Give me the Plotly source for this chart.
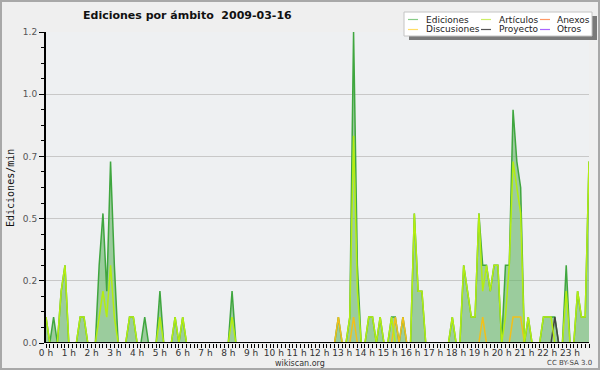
import plotly.graph_objects as go

# ---- data: edits per minute in 10-minute bins (144 bins, 00:00 .. 23:50) ----
minutes = [10 * i for i in range(144)]

ediciones = [
    0.1, 0, 0.1, 0, 0.2, 0.3, 0, 0, 0, 0.1, 0.1, 0,
    0, 0, 0.3, 0.5, 0.2, 0.7, 0.3, 0, 0, 0, 0.1, 0.1,
    0, 0, 0.1, 0, 0, 0, 0.2, 0, 0, 0, 0.1, 0,
    0.1, 0, 0, 0, 0, 0, 0, 0, 0, 0, 0, 0,
    0, 0.2, 0, 0, 0, 0, 0, 0, 0, 0, 0, 0,
    0, 0, 0, 0, 0, 0, 0, 0, 0, 0, 0, 0,
    0, 0, 0, 0, 0, 0.1, 0, 0, 0.1, 1.2, 0.3, 0,
    0, 0.1, 0.1, 0, 0.1, 0, 0, 0.1, 0.1, 0, 0.1, 0,
    0, 0.5, 0.2, 0.2, 0, 0, 0, 0, 0, 0, 0, 0.1,
    0, 0, 0.3, 0.2, 0.1, 0.1, 0.5, 0.3, 0.3, 0.2, 0.3, 0.3,
    0, 0.3, 0.3, 0.9, 0.7, 0.6, 0, 0.1, 0, 0, 0, 0.1,
    0.1, 0.1, 0.1, 0, 0, 0.3, 0, 0, 0.2, 0.1, 0.1, 0.7,
]

articulos = [
    0.1, 0, 0, 0, 0.2, 0.3, 0, 0, 0, 0.1, 0.1, 0,
    0, 0, 0.1, 0.2, 0.1, 0.3, 0.1, 0, 0, 0, 0.1, 0.1,
    0, 0, 0, 0, 0, 0, 0.1, 0, 0, 0, 0.1, 0,
    0.1, 0, 0, 0, 0, 0, 0, 0, 0, 0, 0, 0,
    0, 0.1, 0, 0, 0, 0, 0, 0, 0, 0, 0, 0,
    0, 0, 0, 0, 0, 0, 0, 0, 0, 0, 0, 0,
    0, 0, 0, 0, 0, 0, 0, 0, 0.1, 0.8, 0.2, 0,
    0, 0.1, 0.1, 0, 0.1, 0, 0, 0.1, 0, 0, 0, 0,
    0, 0.5, 0.2, 0.2, 0, 0, 0, 0, 0, 0, 0, 0.1,
    0, 0, 0.3, 0.2, 0.1, 0.1, 0.5, 0.2, 0.3, 0.2, 0.3, 0.3,
    0, 0.1, 0.3, 0.7, 0.6, 0.5, 0, 0.1, 0, 0, 0, 0.1,
    0.1, 0.1, 0, 0, 0, 0.2, 0, 0, 0.2, 0.1, 0.1, 0.7,
]

discusiones = [0] * 144
for i in (77, 81, 92, 94, 115, 123, 124, 125):
    discusiones[i] = 0.1

proyecto = [0] * 144
proyecto[134] = 0.1

anexos = [0] * 144
otros = [0] * 144

hour_ticks = list(range(0, 1440, 60))
hour_labels = [f"{h} h" for h in range(24)]

y_ticks = [0, 0.24, 0.48, 0.72, 0.96, 1.2]
y_labels = ["0.0", "0.2", "0.5", "0.7", "1.0", "1.2"]

series_names = ["Ediciones", "Artículos", "Anexos", "Discusiones", "Proyecto", "Otros"]
series_colors = ["#3fa63f", "#b4ee10", "#ff7a3a", "#f2c01a", "#444444", "#8a45e8"]
legend_swatch = ["#88cc88", "#ccee66", "#ff9966", "#ffdd66", "#555555", "#aa66ff"]

# ---- geometry helpers (pixel -> paper) ----
L, T, W, H = 46, 32, 543, 311


def px(x):
    return (x - L) / W


def py(y):
    return (T + H - y) / H


fig = go.Figure()

fig.add_trace(go.Scatter(
    x=minutes, y=ediciones, mode="lines", name="Ediciones",
    line=dict(color=series_colors[0], width=1.5),
    fill="tozeroy", fillcolor="rgba(100,180,100,0.6)", showlegend=False,
))
for name, vals, col in [
    ("Otros", otros, series_colors[5]),
    ("Anexos", anexos, series_colors[2]),
    ("Proyecto", proyecto, series_colors[4]),
    ("Discusiones", discusiones, series_colors[3]),
    ("Artículos", articulos, series_colors[1]),
]:
    fig.add_trace(go.Scatter(
        x=minutes, y=vals, mode="lines", name=name,
        line=dict(color=col, width=1.5), showlegend=False,
    ))

shapes = []
# outer frame
shapes.append(dict(type="rect", xref="paper", yref="paper",
                   x0=px(1), x1=px(599), y0=py(1), y1=py(369),
                   line=dict(color="#a8a8a8", width=2), layer="above"))
# baseline (x axis line)
shapes.append(dict(type="line", xref="paper", yref="y", x0=0, x1=1, y0=0, y1=0,
                   line=dict(color="#000000", width=2), layer="above"))
# legend box with shadow
shapes.append(dict(type="rect", xref="paper", yref="paper",
                   x0=px(409), x1=px(597), y0=py(16), y1=py(40),
                   fillcolor="#7a7a7a", line=dict(width=0), layer="above"))
shapes.append(dict(type="rect", xref="paper", yref="paper",
                   x0=px(404), x1=px(592), y0=py(12), y1=py(36),
                   fillcolor="#ffffff", line=dict(color="#c4c4c4", width=1), layer="above"))

annotations = []
col_line_x = [(408, 418), (481, 491), (540, 550)]
col_text_x = [424, 497, 555]
row_y = [19.5, 29.5]
for k, name in enumerate(series_names):
    r, c = divmod(k, 3)
    x0, x1 = col_line_x[c]
    shapes.append(dict(type="line", xref="paper", yref="paper",
                       x0=px(x0), x1=px(x1), y0=py(row_y[r]), y1=py(row_y[r]),
                       line=dict(color=legend_swatch[k], width=1.2), layer="above"))
    annotations.append(dict(xref="paper", yref="paper", x=px(col_text_x[c]), y=py(row_y[r]),
                            text=name, showarrow=False, xanchor="left", yanchor="middle",
                            font=dict(family="DejaVu Sans", size=9, color="#222222")))

annotations.append(dict(xref="paper", yref="paper", x=px(187.5), y=py(15),
                        text="<b>Ediciones por ámbito\u00a0 2009-03-16</b>", showarrow=False,
                        xanchor="center", yanchor="middle",
                        font=dict(family="DejaVu Sans", size=11, color="#111111")))
annotations.append(dict(xref="paper", yref="paper", x=px(10), y=py(188),
                        text="Ediciones/min", showarrow=False, textangle=-90,
                        xanchor="center", yanchor="middle",
                        font=dict(family="DejaVu Sans Mono", size=10, color="#111111")))
annotations.append(dict(xref="paper", yref="paper", x=px(300), y=py(363),
                        text="wikiscan.org", showarrow=False,
                        xanchor="center", yanchor="middle",
                        font=dict(family="DejaVu Sans", size=8, color="#333333")))
annotations.append(dict(xref="paper", yref="paper", x=px(569), y=py(363),
                        text="CC BY-SA 3.0", showarrow=False,
                        xanchor="center", yanchor="middle",
                        font=dict(family="DejaVu Sans", size=7, color="#444444")))

fig.update_layout(
    width=600, height=370,
    margin=dict(l=L, r=600 - L - W, t=T, b=370 - T - H),
    paper_bgcolor="#efefef", plot_bgcolor="#eef0f2",
    showlegend=False,
    shapes=shapes, annotations=annotations,
    xaxis=dict(
        range=[0, 1430], tickmode="array", tickvals=hour_ticks, ticktext=hour_labels,
        ticks="outside", ticklen=4, tickcolor="#000000", tickwidth=1,
        ticklabelstandoff=-3,
        showgrid=False, zeroline=False, showline=False, automargin=False,
        tickfont=dict(family="DejaVu Sans", size=9, color="#333333"),
        minor=dict(dtick=10, tick0=0, ticks="outside", ticklen=4, tickcolor="#000000",
                   tickwidth=1, showgrid=False),
    ),
    yaxis=dict(
        range=[0, 1.2], tickmode="array", tickvals=y_ticks, ticktext=y_labels,
        ticks="outside", ticklen=5, tickcolor="#000000", tickwidth=1,
        showgrid=True, gridcolor="#c8c8c8", gridwidth=1, automargin=False,
        zeroline=False, showline=True, linecolor="#000000", linewidth=2,
        tickfont=dict(family="DejaVu Sans", size=9, color="#555555"),
        minor=dict(dtick=0.06, tick0=0, ticks="outside", ticklen=3, tickcolor="#000000",
                   tickwidth=1, showgrid=False),
    ),
)

fig.write_html("out.html", config={"displayModeBar": False},
               post_script="document.body.style.margin='0px';")
